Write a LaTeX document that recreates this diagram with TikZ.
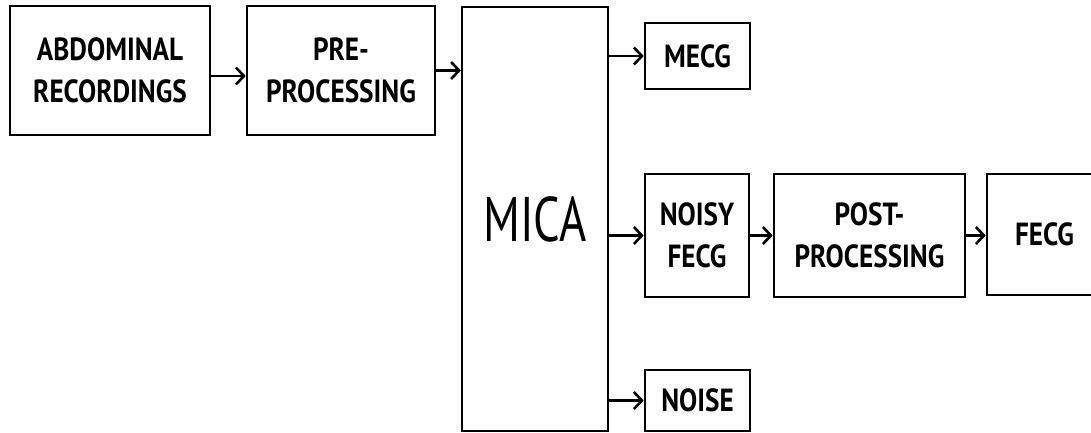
\documentclass[tikz,border=0pt]{standalone}
\usepackage{fontspec}
\newfontfamily\labfont{PT Sans}[FakeStretch=0.85]
\newfontfamily\bigfont{PT Sans}[FakeStretch=0.74]
\usetikzlibrary{arrows.meta}
\tikzset{
  blk/.style={draw=black, line width=2.6pt, fill=white, inner sep=0pt, align=center,
    font=\labfont\bfseries\fontsize{32}{42}\selectfont},
  arr/.style={draw=black, line width=2.6pt, -{Straight Barb[length=8pt,width=17pt,line width=2.6pt]}}
}
\begin{document}
\begin{tikzpicture}[x=1pt,y=-1pt]
\useasboundingbox (0,0) rectangle (1091,432);
\clip (0,0) rectangle (1091,432);
\fill[white] (0,0) rectangle (1091,432);
\node[blk, minimum width=200pt, minimum height=129pt] (abd) at (110,70.5) {ABDOMINAL\\RECORDINGS};
\node[blk, minimum width=188pt, minimum height=129pt] (pre) at (341,70.5) {PRE-\\PROCESSING};
\node[blk, line width=2.2pt, minimum width=146pt, minimum height=424pt, font=\bigfont\fontsize{63}{70}\selectfont] (mica) at (535,219) {MICA};
\node[blk, minimum width=105pt, minimum height=66pt] (mecg) at (697.5,56) {MECG};
\node[blk, minimum width=104pt, minimum height=123pt] (noisy) at (697,235.5) {NOISY\\FECG};
\node[blk, minimum width=191pt, minimum height=123pt] (post) at (869.5,235.5) {POST-\\PROCESSING};
\node[blk, minimum width=115pt, minimum height=121pt] (fecg) at (1044.5,234.5) {FECG};
\node[blk, minimum width=105pt, minimum height=61pt] (noise) at (697.5,400.5) {NOISE};
\draw[arr] ([yshift=-5.5pt]abd.east) -- ([yshift=-5.5pt]pre.west);
\draw[arr] (pre.east) -- (pre.east -| mica.west);
\draw[arr] (mecg.west -| mica.east) -- (mecg.west);
\draw[arr] (noisy.west -| mica.east) -- (noisy.west);
\draw[arr] (noisy.east) -- (noisy.east -| post.west);
\draw[arr] (post.east) -- (post.east -| fecg.west);
\draw[arr] (noise.west -| mica.east) -- (noise.west);
\end{tikzpicture}
\end{document}
